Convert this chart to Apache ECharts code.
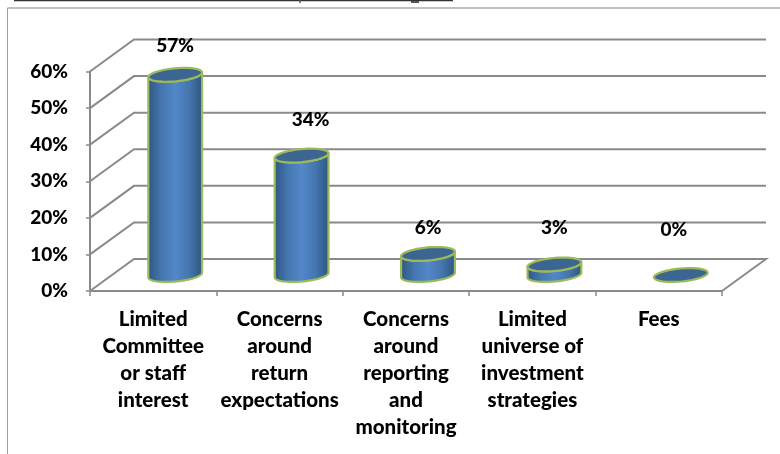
<!DOCTYPE html>
<html><head><meta charset="utf-8">
<style>html,body{margin:0;padding:0;background:#fff}#c{width:780px;height:454px}</style>
<script src="https://cdn.jsdelivr.net/npm/echarts@6/dist/echarts.min.js"></script>
</head><body><div id="c"></div>
<script>
const categories = ["Limited\nCommittee\nor staff\ninterest","Concerns\naround\nreturn\nexpectations","Concerns\naround\nreporting\nand\nmonitoring","Limited\nuniverse of\ninvestment\nstrategies","Fees"];
const values = [57, 34, 6, 3, 0];
const axisTicks = [0, 10, 20, 30, 40, 50, 60];

const FONT = 'Lato, Carlito, sans-serif';
const DEPTH_X = 44, DEPTH_Y = 32, GREY = '#8a8a8a';
const RX = 27, RY = 6.5, TILT = 5.3 * Math.PI / 180;
// hand-placed label nudges as in the reference
const labelNudge = [[0,-29],[9,-36],[0,-26],[0,-37],[-7,-45]];

function ellipsePt(cx, cy, t) {
  const a = RX * Math.cos(t), b = RY * Math.sin(t);
  return [cx + a * Math.cos(TILT) + b * Math.sin(TILT), cy - a * Math.sin(TILT) + b * Math.cos(TILT)];
}
function arc(cx, cy, from, to) {
  const n = 48, out = [];
  for (let i = 0; i <= n; i++) out.push(ellipsePt(cx, cy, from + (to - from) * i / n));
  return out;
}
const green = '#9bbb59';

const chart = echarts.init(document.getElementById('c'), null, {renderer: 'canvas'});
chart.setOption({
  animation: false,
  backgroundColor: '#fff',
  grid: {left: 90, right: 58, top: 71.5, bottom: 163},
  xAxis: {
    type: 'category', data: categories, boundaryGap: true,
    axisLine: {show: true, lineStyle: {color: GREY, width: 2}},
    axisTick: {show: true, length: 5, lineStyle: {color: GREY, width: 1.5}},
    axisLabel: {interval: 0, color: '#000', fontFamily: FONT, fontWeight: 900, fontSize: 20.5, lineHeight: 27, margin: 15, align: 'center', verticalAlign: 'top'}
  },
  yAxis: [{
    type: 'value', min: 0, max: 60, interval: 10,
    axisLine: {show: true, lineStyle: {color: GREY, width: 2}},
    axisTick: {show: true, length: 4, lineStyle: {color: GREY, width: 1.5}},
    splitLine: {show: false},
    axisLabel: {formatter: '{value}%', color: '#000', fontFamily: FONT, fontWeight: 900, fontSize: 19, margin: 22, padding: [3, 0, 0, 0]}
  }, {
    type: 'value', min: 0, max: 62.5, show: false, splitLine: {show: false}
  }],
  graphic: [
    {type: 'line', shape: {x1: 14, y1: 0.5, x2: 453, y2: 0.5}, style: {stroke: '#333', lineWidth: 1.5}, silent: true},
    {type: 'line', shape: {x1: 300, y1: 0, x2: 300, y2: 3}, style: {stroke: '#555', lineWidth: 1.5}, silent: true},
    {type: 'line', shape: {x1: 411, y1: 2, x2: 419, y2: 2}, style: {stroke: '#555', lineWidth: 2}, silent: true},
    {type: 'line', shape: {x1: 7.5, y1: 8, x2: 780, y2: 8}, style: {stroke: '#7f7f7f', lineWidth: 1}, silent: true},
    {type: 'line', shape: {x1: 7.5, y1: 8, x2: 7.5, y2: 454}, style: {stroke: '#a0a0a0', lineWidth: 1}, silent: true}
  ],
  series: [{
    type: 'custom', coordinateSystem: 'cartesian2d', xAxisIndex: 0, yAxisIndex: 0, z: 1, silent: true,
    data: axisTicks.map(v => [0, v]),
    encode: {x: 0, y: 1},
    renderItem(params, api) {
      const g = params.coordSys, v = api.value(1);
      const y = api.coord([0, v])[1];
      const left = g.x, right = g.x + g.width;
      const style = {stroke: GREY, lineWidth: 2, fill: null};
      const pts = [[left, y], [left + DEPTH_X, y - DEPTH_Y], [right + DEPTH_X, y - DEPTH_Y]];
      if (v === 0) pts.push([right, y]);
      return {type: 'polyline', shape: {points: pts}, style};
    }
  }, {
    type: 'custom', coordinateSystem: 'cartesian2d', xAxisIndex: 0, yAxisIndex: 1, z: 3, silent: true,
    data: values.map((v, i) => [i, v]),
    encode: {x: 0, y: 1},
    renderItem(params, api) {
      const i = api.value(0), v = api.value(1);
      const base = api.coord([i, 0]), top = api.coord([i, v]);
      const cx = base[0] + DEPTH_X / 2, by = base[1] - DEPTH_Y / 2, ty = top[1] - DEPTH_Y / 2;
      const children = [];
      if (v > 0) {
        const body = arc(cx, by, 0, Math.PI).concat(arc(cx, ty, Math.PI, 0));
        children.push({type: 'polygon', shape: {points: body}, style: {
          fill: {type: 'linear', x: 0, y: 0, x2: 1, y2: 0, colorStops: [
            {offset: 0, color: '#2d5480'}, {offset: 0.25, color: '#4576ae'},
            {offset: 0.5, color: '#5287c9'}, {offset: 0.75, color: '#4576ae'}, {offset: 1, color: '#2d5480'}]},
          stroke: green, lineWidth: 2.2, lineJoin: 'round'}});
      }
      children.push({type: 'polygon', shape: {points: arc(cx, ty, 0, Math.PI * 2)}, style: {fill: '#3d6591', stroke: green, lineWidth: 2.2, lineJoin: 'round'}});
      const n = labelNudge[i];
      children.push({type: 'text', style: {text: v + '%', x: cx + n[0], y: ty + n[1], align: 'center', verticalAlign: 'middle', fill: '#000', font: '900 19px ' + FONT}});
      return {type: 'group', children};
    }
  }]
});
</script></body></html>
